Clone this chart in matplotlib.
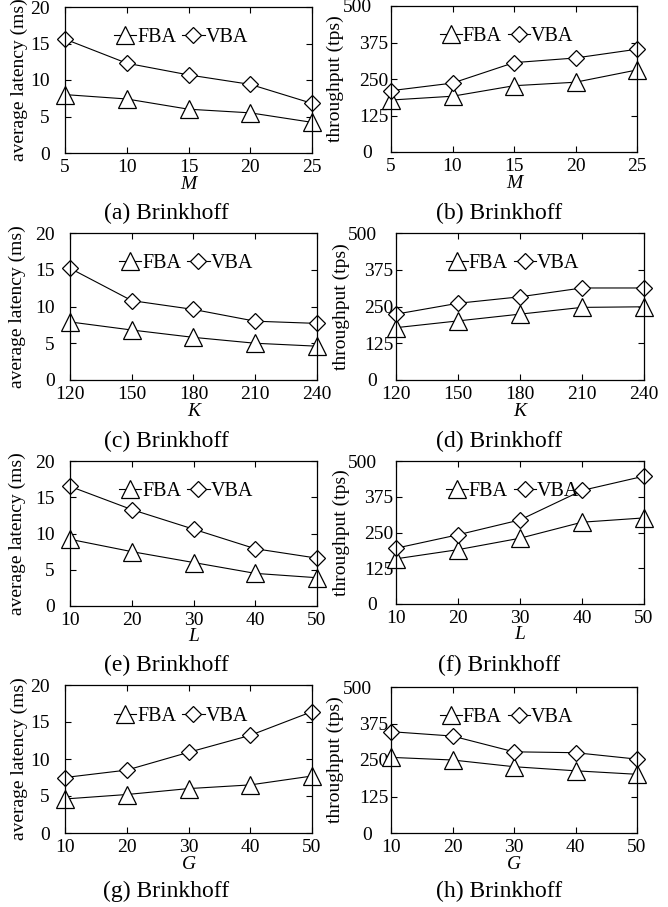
import matplotlib
matplotlib.use("Agg")
import matplotlib.pyplot as plt

plt.rcParams['font.family'] = ['Liberation Serif', 'DejaVu Serif']

# x values for each row
x_M = [5, 10, 15, 20, 25]
x_K = [120, 150, 180, 210, 240]
x_L = [10, 20, 30, 40, 50]
x_G = [10, 20, 30, 40, 50]

# latency (ms)
lat_fba_M = [8.0, 7.4, 6.0, 5.5, 4.2]
lat_vba_M = [15.6, 12.3, 10.7, 9.4, 6.8]
lat_fba_K = [7.9, 6.8, 5.8, 5.0, 4.6]
lat_vba_K = [15.2, 10.8, 9.6, 8.0, 7.7]
lat_fba_L = [9.2, 7.5, 6.0, 4.5, 3.9]
lat_vba_L = [16.5, 13.3, 10.6, 7.9, 6.6]
lat_fba_G = [4.6, 5.2, 6.0, 6.5, 7.7]
lat_vba_G = [7.5, 8.5, 10.9, 13.2, 16.4]

# throughput (tps)
thr_fba_M = [178, 191, 227, 239, 281]
thr_vba_M = [210, 236, 306, 322, 352]
thr_fba_K = [178, 201, 224, 247, 249]
thr_vba_K = [224, 261, 283, 313, 313]
thr_fba_L = [158, 190, 230, 286, 301]
thr_vba_L = [195, 242, 294, 397, 447]
thr_fba_G = [259, 250, 227, 213, 201]
thr_vba_G = [347, 332, 278, 275, 253]

xlabels = ['M', 'K', 'L', 'G']
captions = ['(a) Brinkhoff', '(b) Brinkhoff', '(c) Brinkhoff', '(d) Brinkhoff',
            '(e) Brinkhoff', '(f) Brinkhoff', '(g) Brinkhoff', '(h) Brinkhoff']
lat_ticks = [0, 5, 10, 15, 20]
thr_ticks = [0, 125, 250, 375, 500]

rows = [
    (x_M, lat_fba_M, lat_vba_M, thr_fba_M, thr_vba_M),
    (x_K, lat_fba_K, lat_vba_K, thr_fba_K, thr_vba_K),
    (x_L, lat_fba_L, lat_vba_L, thr_fba_L, thr_vba_L),
    (x_G, lat_fba_G, lat_vba_G, thr_fba_G, thr_vba_G),
]

W, H = 668, 907
fig = plt.figure(figsize=(W / 100, H / 100), dpi=100)

# pixel boxes (left, right, top, bottom)
left_boxes = [(65, 312, 7, 153), (70, 317, 233, 380), (70, 317, 461, 606), (65, 312, 685, 833)]
right_boxes = [(391, 637, 6, 152), (396, 644, 233, 380), (396, 644, 461, 604), (391, 637, 687, 833)]
ylab_left = [28, 26, 26, 28]
ylab_right = [344, 350, 350, 344]
cap_y = [213, 441, 665, 891]


def make_ax(box):
    l, r, t, b = box
    return fig.add_axes([l / W, 1 - b / H, (r - l) / W, (b - t) / H])


def style(ax, xs, yticks, ymax):
    ax.set_xlim(xs[0], xs[-1])
    ax.set_xticks(xs)
    ax.set_ylim(0, ymax)
    ax.set_yticks(yticks)
    ax.tick_params(direction='in', length=4.5, width=0.8, top=True, right=True,
                   labelsize=14)
    ax.tick_params(axis='x', pad=4.5)
    for s in ax.spines.values():
        s.set_linewidth(0.9)


def draw(ax, xs, fba, vba):
    ax.plot(xs, fba, color='black', lw=0.8, marker='^', ms=12.5, mfc='white',
            mec='black', mew=0.9, label='FBA', clip_on=False)
    ax.plot(xs, vba, color='black', lw=0.8, marker='D', ms=8.5, mfc='white',
            mec='black', mew=0.9, label='VBA', clip_on=False)
    ax.legend(ncol=2, frameon=False, loc='center', bbox_to_anchor=(0.47, 0.79),
              handlelength=1.1, handletextpad=0.05, columnspacing=0.3,
              fontsize=14.5, borderaxespad=0)


for i, (xs, lf, lv, tf, tv) in enumerate(rows):
    axl = make_ax(left_boxes[i])
    draw(axl, xs, lf, lv)
    style(axl, xs, lat_ticks, 20)
    axl.tick_params(axis='y', pad=11)
    axl.set_ylabel('average latency (ms)', fontsize=14)
    l, r, t, b = left_boxes[i]
    axl.yaxis.set_label_coords((ylab_left[i] - l) / (r - l), 0.5)
    axl.set_xlabel(xlabels[i], fontsize=14, style='italic')
    axl.xaxis.set_label_coords(0.5, -0.155)

    axr = make_ax(right_boxes[i])
    draw(axr, xs, tf, tv)
    style(axr, xs, thr_ticks, 500)
    ticks = axr.yaxis.get_major_ticks()
    for j, tk in enumerate(ticks):
        if j in (0, len(thr_ticks) - 1):
            tk.set_pad(14)
        else:
            tk.set_pad(2)
    axr.set_ylabel('throughput (tps)', fontsize=14)
    l, r, t, b = right_boxes[i]
    axr.yaxis.set_label_coords((ylab_right[i] - l) / (r - l), 0.5)
    axr.set_xlabel(xlabels[i], fontsize=14, style='italic')
    axr.xaxis.set_label_coords(0.5, -0.155)

    fig.text(166 / W, 1 - cap_y[i] / H, captions[2 * i], fontsize=17,
             ha='center', va='center')
    fig.text(499 / W, 1 - cap_y[i] / H, captions[2 * i + 1], fontsize=17,
             ha='center', va='center')

fig.savefig('out.png', dpi=100)
